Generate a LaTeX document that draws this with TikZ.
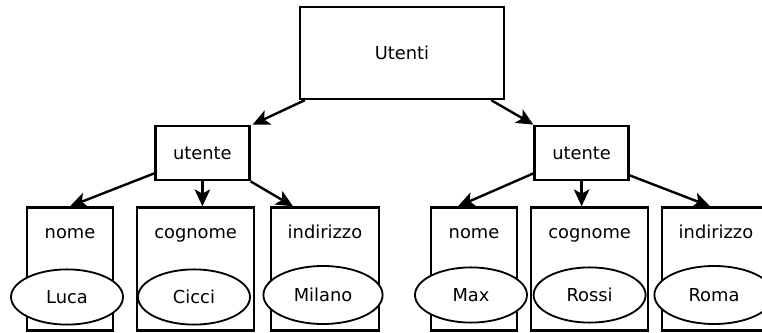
\documentclass[tikz,border=0pt]{standalone}
\usepackage{fontspec}
\setmainfont{DejaVu Sans}
\usetikzlibrary{shapes.geometric, arrows, arrows.meta}
\tikzstyle{rec} = [rectangle, minimum width=2.35cm, minimum height=1.36cm, text centered, draw=black, line width=1.7pt]
\tikzstyle{big} = [rec, minimum width=5.1cm, minimum height=2.3cm]
\tikzstyle{field} = [rectangle, minimum height=3.075cm, draw=black, line width=1.7pt]
\tikzstyle{fieldname} = [text height=1.5ex, text depth=.25ex]
\tikzstyle{value} = [ellipse, minimum width=2.8cm, minimum height=1.38cm, inner sep=0pt, draw=black, fill=white, line width=1.3pt]
\tikzstyle{arrow} = [line width=1.7pt,-{Stealth[length=12pt, width=11pt, inset=3pt]}]

\begin{document}
\begin{tikzpicture}[font=\fontsize{12.7}{15}\selectfont, node distance=2.5cm]
		\useasboundingbox (0,0) rectangle (19.05,-8.325);
		\node (utenti) [big] at (10.05,-1.325) {Utenti};
		\node (utente1) [rec, below of=utenti, xshift=-4.99cm] {utente};
		\node (utente2) [rec, below of=utenti, xshift=4.49cm] {utente};
		\draw [arrow] ([xshift=0.15cm]utenti.south west) -- ([xshift=0.05cm]utente1.north east);
		\draw [arrow] ([xshift=-0.35cm]utenti.south east) -- (utente2.north west);
		% campi del primo utente
		\node (nome1) [field, minimum width=2.15cm, below of=utente1, node distance=2.9cm, xshift=-3.31cm] {};
		\node (cognome1) [field, minimum width=2.925cm, below of=utente1, node distance=2.9cm, xshift=-0.17cm] {};
		\node (indirizzo1) [field, minimum width=2.7cm, below of=utente1, node distance=2.9cm, xshift=3.065cm] {};
		\node (nome1txt) [fieldname] at ([yshift=-0.675cm]nome1.north) {nome};
		\node (cognome1txt) [fieldname] at ([yshift=-0.675cm]cognome1.north) {cognome};
		\node (indirizzo1txt) [fieldname] at ([yshift=-0.675cm]indirizzo1.north) {indirizzo};
		\node (luca) [value, below of=nome1, node distance=0.7cm, xshift=-0.075cm] {Luca};
		\node (cicci) [value, below of=cognome1, node distance=0.7cm, xshift=-0.04cm] {Cicci};
		\node (milano) [value, minimum width=2.98cm, minimum height=1.45cm, below of=indirizzo1, node distance=0.65cm, xshift=-0.05cm] {Milano};
		\draw [arrow] ([yshift=0.2cm]utente1.south west) -- (nome1.north);
		\draw [arrow] (utente1) -- (utente1 |- cognome1.north);
		\draw [arrow] (utente1.south east) -- ([xshift=-0.8cm]indirizzo1.north);
		% campi del secondo utente
		\node (nome2) [field, minimum width=2.15cm, below of=utente2, node distance=2.9cm, xshift=-2.69cm] {};
		\node (cognome2) [field, minimum width=2.925cm, below of=utente2, node distance=2.9cm, xshift=0.2cm] {};
		\node (indirizzo2) [field, minimum width=2.7cm, below of=utente2, node distance=2.9cm, xshift=3.36cm] {};
		\node (nome2txt) [fieldname] at ([yshift=-0.675cm]nome2.north) {nome};
		\node (cognome2txt) [fieldname] at ([yshift=-0.675cm]cognome2.north) {cognome};
		\node (indirizzo2txt) [fieldname] at ([yshift=-0.675cm]indirizzo2.north) {indirizzo};
		\node (max) [value, below of=nome2, node distance=0.65cm, xshift=-0.075cm] {Max};
		\node (rossi) [value, below of=cognome2, node distance=0.65cm] {Rossi};
		\node (roma) [value, minimum width=2.98cm, minimum height=1.45cm, below of=indirizzo2, node distance=0.65cm, xshift=-0.05cm] {Roma};
		\draw [arrow] ([yshift=0.2cm]utente2.south west) -- ([xshift=-0.4cm]nome2.north);
		\draw [arrow] (utente2) -- (utente2 |- cognome2.north);
		\draw [arrow] ([yshift=0.15cm]utente2.south east) -- ([xshift=-0.15cm]indirizzo2.north);
\end{tikzpicture}
\end{document}
